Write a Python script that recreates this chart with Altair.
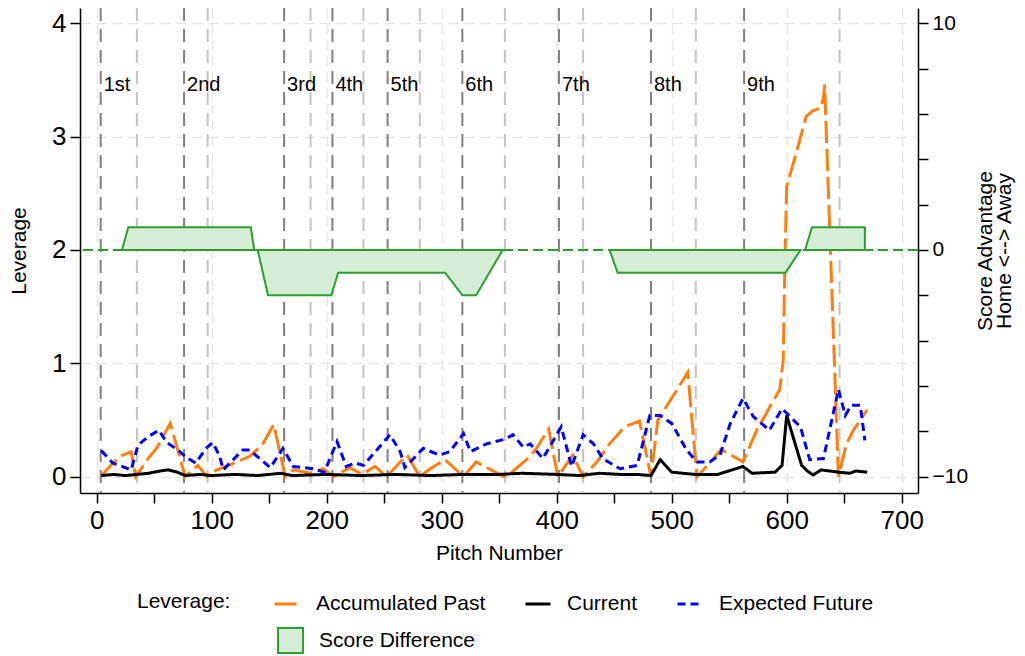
import altair as alt
import pandas as pd

# ---------------- data ----------------
past_pitch = [4, 20, 30, 34, 44, 52, 64, 77, 88, 96, 100, 122, 133, 144, 154, 164, 171, 186, 197, 206,
              220, 231, 242, 252, 264, 270, 281, 290, 303, 319, 330, 354, 360, 377, 383, 393, 401, 410,
              414, 423, 435, 446, 459, 472, 482, 488, 503, 514, 522, 533, 543, 562, 574, 594, 597, 598.5,
              600, 609, 617, 623, 629, 632, 633, 645, 652, 658, 670]
past_lev = [0.01, 0.18, 0.22, 0.0, 0.15, 0.25, 0.47, 0.0, 0.1, 0.0, 0.04, 0.13, 0.18, 0.28, 0.46, 0.0, 0.06,
            0.03, 0.07, 0.0, 0.08, 0.02, 0.09, 0.0, 0.13, 0.19, 0.0, 0.07, 0.15, 0.0, 0.13, 0.0, 0.03, 0.18,
            0.26, 0.42, 0.0, 0.13, 0.19, 0.0, 0.13, 0.29, 0.44, 0.49, 0.0, 0.5, 0.74, 0.92, 0.0, 0.12, 0.24,
            0.13, 0.41, 0.77, 1.03, 1.91, 2.56, 2.88, 3.18, 3.23, 3.25, 3.34, 3.46, 0.0, 0.29, 0.41, 0.59]

cur_pitch = [4, 15, 25, 35, 45, 55, 62, 70, 77, 90, 100, 120, 140, 160, 170, 200, 230, 260, 290, 320,
             350, 370, 400, 420, 437, 455, 470, 482, 490, 500, 520, 540, 562, 570, 590, 596, 600, 613,
             618, 623, 630, 645, 655, 660, 670]
cur_lev = [0.01, 0.02, 0.01, 0.02, 0.03, 0.05, 0.06, 0.04, 0.01, 0.02, 0.01, 0.02, 0.01, 0.03, 0.01, 0.02,
           0.01, 0.02, 0.01, 0.02, 0.02, 0.03, 0.02, 0.01, 0.03, 0.02, 0.02, 0.01, 0.15, 0.04, 0.02, 0.02,
           0.09, 0.03, 0.04, 0.1, 0.54, 0.1, 0.05, 0.015, 0.06, 0.04, 0.03, 0.05, 0.04]

fut_pitch = [4, 14, 30, 36, 46, 54, 61, 70, 78, 86, 96, 101, 107, 110, 127, 133, 151, 162, 171, 188, 198,
             209, 217, 225, 232, 255, 264, 268, 284, 298, 307, 319, 325, 339, 355, 362, 371, 377, 388, 404,
             413, 423, 432, 440, 455, 470, 481, 490, 500, 513, 522, 533, 542, 551, 562, 571, 585, 596, 612,
             620, 632, 645, 651, 656, 664, 668]
fut_lev = [0.23, 0.12, 0.06, 0.28, 0.36, 0.41, 0.3, 0.24, 0.17, 0.12, 0.26, 0.3, 0.18, 0.06, 0.235, 0.235,
           0.08, 0.25, 0.09, 0.07, 0.04, 0.31, 0.09, 0.12, 0.1, 0.37, 0.22, 0.08, 0.25, 0.19, 0.22, 0.38, 0.22,
           0.29, 0.33, 0.37, 0.26, 0.29, 0.16, 0.44, 0.09, 0.37, 0.29, 0.16, 0.07, 0.1, 0.54, 0.54, 0.47, 0.235,
           0.13, 0.13, 0.19, 0.47, 0.69, 0.53, 0.41, 0.6, 0.44, 0.15, 0.16, 0.77, 0.54, 0.63, 0.63, 0.32]

series_names = ["Accumulated Past", "Current", "Expected Future"]
series_colors = ["#ff7f0e", "#000000", "#0000ff"]
series_dashes = [[22, 6], [1, 0], [8, 5]]

score_pitch = [22, 27.5, 134, 137, 140, 149, 204, 210, 303, 318, 330, 353, 446, 453, 599, 612, 616, 622, 668]
score_diff = [0, 1, 1, 0, 0, -2, -2, -1, -1, -2, -2, 0, 0, -1, -1, 0, 0, 1, 1]
score_seg = [1, 1, 1, 1, 2, 2, 2, 2, 2, 2, 2, 2, 3, 3, 3, 3, 4, 4, 4]

inning_start = [3.5, 76, 163, 205, 253, 318, 402, 482, 563]
inning_label = ["1st", "2nd", "3rd", "4th", "5th", "6th", "7th", "8th", "9th"]
half_inning = [35, 96.5, 186, 232, 281, 355, 423, 521, 646]
label_level = 3.46

x_ticks = list(range(0, 701, 50))
lev_ticks = [0, 1, 2, 3, 4]
score_ticks = list(range(-10, 11))

# ---------------- tables ----------------
rows = []
for name, xs, ys in [(series_names[0], past_pitch, past_lev),
                     (series_names[1], cur_pitch, cur_lev),
                     (series_names[2], fut_pitch, fut_lev)]:
    for x, y in zip(xs, ys):
        rows.append({"series": name, "pitch": x, "lev": y})
lev_df = pd.DataFrame(rows)

score_df = pd.DataFrame({"pitch": score_pitch, "score": score_diff, "seg": score_seg,
                         "label": ["Score Difference"] * len(score_pitch)})
inn_df = pd.DataFrame({"pitch": inning_start, "label": inning_label, "lev": [label_level] * 9})
half_df = pd.DataFrame({"pitch": half_inning})

FONT = "Liberation Sans"
xdom = [-14.5, 714.2]
ydom = [-0.144, 4.135]
sdom = [(ydom[0] - 2) * 5, (ydom[1] - 2) * 5]

x_enc = alt.X("pitch:Q", scale=alt.Scale(domain=xdom, nice=False, zero=False),
              axis=alt.Axis(title="Pitch Number", values=x_ticks,
                            labelExpr="datum.value % 100 === 0 ? datum.label : ''",
                            grid=True, gridColor="#e6e6e6", gridDash=[10, 6], gridWidth=1.5,
                            gridOpacity={"condition": {"test": "datum.value % 100 !== 0", "value": 0}, "value": 1},
                            titlePadding=9))

half_rules = alt.Chart(half_df).mark_rule(color="#c4c4c4", strokeWidth=2, strokeDash=[13, 8]).encode(
    x=alt.X("pitch:Q", scale=alt.Scale(domain=xdom, nice=False, zero=False)))
inn_rules = alt.Chart(inn_df).mark_rule(color="#808080", strokeWidth=2, strokeDash=[13, 8]).encode(
    x=alt.X("pitch:Q", scale=alt.Scale(domain=xdom, nice=False, zero=False)))

leg_lines = alt.Legend(title="Leverage:", orient="none", legendX=57, legendY=582,
                       direction="horizontal", titleOrient="left", labelLimit=400)

lines = alt.Chart(lev_df).mark_line(strokeWidth=3).encode(
    x=x_enc,
    y=alt.Y("lev:Q", scale=alt.Scale(domain=ydom, nice=False, zero=False),
            axis=alt.Axis(title="Leverage", values=lev_ticks, format="d", grid=True, gridColor="#e6e6e6",
                          gridDash=[10, 6], gridWidth=1.5, titlePadding=22)),
    color=alt.Color("series:N", scale=alt.Scale(domain=series_names, range=series_colors),
                    legend=leg_lines),
    strokeDash=alt.StrokeDash("series:N", scale=alt.Scale(domain=series_names, range=series_dashes),
                              legend=leg_lines),
)

inn_text = alt.Chart(inn_df).mark_text(align="left", baseline="middle", dx=3, fontSize=20,
                                       font=FONT, color="black").encode(
    x=alt.X("pitch:Q"), y=alt.Y("lev:Q"), text="label:N")

lev_layer = alt.layer(half_rules, inn_rules, lines, inn_text)

zero_rule = alt.Chart(score_df).mark_rule(color="#2ca02c", strokeWidth=2, strokeDash=[10, 5]).encode(
    y=alt.datum(0))

area = alt.Chart(score_df).mark_area(stroke="#2ca02c", strokeWidth=2, interpolate="linear").encode(
    x=alt.X("pitch:Q"),
    y=alt.Y("score:Q", scale=alt.Scale(domain=sdom, nice=False, zero=False),
            axis=alt.Axis(orient="right", title=["Score Advantage", "Home <--> Away"], values=score_ticks,
                          labelExpr="datum.value % 5 === 0 ? datum.label : ''", grid=False,
                          titleAngle=270, titlePadding=9, titleLineHeight=19, labelFontSize=21)),
    y2=alt.datum(0),
    detail="seg:N",
    fill=alt.Fill("label:N", scale=alt.Scale(domain=["Score Difference"], range=["#d5ecd5"]),
                  legend=alt.Legend(title=None, orient="none", legendX=197, legendY=619,
                                    symbolType="square", symbolStrokeColor="#2ca02c",
                                    symbolStrokeWidth=2, labelOffset=15)),
)

score_layer = alt.layer(zero_rule, area)

chart = alt.layer(lev_layer, score_layer).resolve_scale(y="independent").properties(
    width=838, height=485,
    padding={"left": 72, "top": 0, "right": 99, "bottom": 163},
    autosize=alt.AutoSizeParams(type="none"),
    background="white",
).configure_view(stroke="transparent").configure_axis(
    labelFont=FONT, titleFont=FONT, labelFontSize=26, titleFontSize=21, titleFontWeight="normal",
    labelColor="black", titleColor="black", domainColor="black", domainWidth=1.5,
    tickColor="black", tickWidth=1.5, tickSize=10, labelPadding=4,
).configure_legend(
    labelFont=FONT, titleFont=FONT, labelFontSize=21, titleFontSize=21, titleFontWeight="normal",
    labelColor="black", titleColor="black", symbolSize=625, symbolStrokeWidth=3,
    labelOffset=15, columnPadding=33, titlePadding=42, padding=0,
)

chart.save("out.html", embed_options={"renderer": "svg", "actions": False})
